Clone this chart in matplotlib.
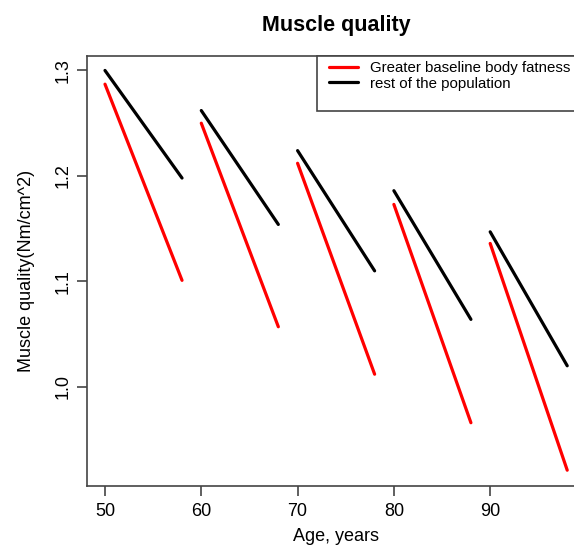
import matplotlib as mpl
mpl.use("Agg")
import matplotlib.pyplot as plt
from matplotlib.patches import Rectangle

mpl.rcParams['font.family'] = ['Liberation Sans', 'DejaVu Sans']

# age windows (start / end of each follow-up segment)
age_start = [50, 60, 70, 80, 90]
age_end = [58, 68, 78, 88, 98]

# rest of the population (black)
rest_start = [1.300, 1.262, 1.224, 1.186, 1.147]
rest_end = [1.198, 1.154, 1.110, 1.064, 1.020]

# greater baseline body fatness (red)
fat_start = [1.287, 1.250, 1.212, 1.173, 1.136]
fat_end = [1.101, 1.057, 1.012, 0.966, 0.921]

xticks = [50, 60, 70, 80, 90]
yticks = [1.0, 1.1, 1.2, 1.3]

fig = plt.figure(figsize=(5.74, 5.48), dpi=100)
ax = fig.add_axes([0.1507, 0.1131, 0.8697, 0.7847])

for i in range(len(age_start)):
    ax.plot([age_start[i], age_end[i]], [fat_start[i], fat_end[i]],
            color="#ff0000", lw=2.3, solid_capstyle="round",
            label="Greater baseline body fatness" if i == 0 else None)
    ax.plot([age_start[i], age_end[i]], [rest_start[i], rest_end[i]],
            color="black", lw=2.3, solid_capstyle="round",
            label="rest of the population" if i == 0 else None)

ax.set_xlim(48.08, 99.92)
ax.set_ylim(0.906, 1.3137)
ax.set_xticks(xticks)
ax.set_xticklabels([str(t) for t in xticks])
ax.set_yticks(yticks)
ax.set_yticklabels(["%.1f" % t for t in yticks], rotation=90, va="center")

for s in ax.spines.values():
    s.set_color("#444444")
    s.set_linewidth(1.2)
ax.tick_params(direction="out", length=7, width=1.2, color="#444444",
               labelsize=13, pad=4)
ax.tick_params(axis="x", pad=5)

ax.set_xlabel("Age, years", fontsize=13, labelpad=6)
ax.set_ylabel("Muscle quality(Nm/cm^2)", fontsize=13, labelpad=14)
ax.set_title("Muscle quality", fontsize=15.5, fontweight="bold", pad=18)

# R-style legend box: taller than its two rows, anchored to the top right
ax.add_patch(Rectangle((0.461, 0.872), 0.6, 0.128, transform=ax.transAxes,
                       facecolor="white", edgecolor="#444444", lw=1.2,
                       zorder=4, clip_on=False))
leg = ax.legend(loc="upper left", bbox_to_anchor=(0.4858, 0.988),
                fontsize=10.8, frameon=False, borderaxespad=0, borderpad=0,
                handlelength=1.9, handletextpad=0.8, labelspacing=0.1)
leg.set_zorder(5)

fig.savefig("out.png", dpi=100)
